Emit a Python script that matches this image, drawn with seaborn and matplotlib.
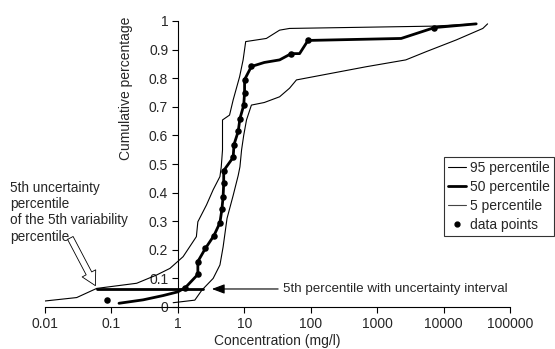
import matplotlib
matplotlib.use('Agg')
import matplotlib.pyplot as plt
from matplotlib.lines import Line2D
import numpy as np
import pandas as pd
import seaborn as sns

# Datos
conc_puntos = [0.085, 1.3, 2.0, 2.0, 2.6, 3.5, 4.3, 4.6, 4.8, 4.9, 4.9, 6.8, 7.0, 8.1, 8.6,
               9.8, 10.1, 10.1, 12.8, 51, 91, 7300]
cum_puntos = [0.023, 0.068, 0.114, 0.159, 0.205, 0.25, 0.295, 0.341, 0.386, 0.432, 0.477,
              0.523, 0.568, 0.614, 0.659, 0.705, 0.75, 0.795, 0.841, 0.886, 0.932, 0.977]

conc_p50 = [0.13, 0.3, 0.6, 1.0, 1.3, 2.0, 2.0, 2.6, 3.5, 4.3, 4.6, 4.8, 4.9, 4.9, 6.8, 7.0,
            8.1, 8.6, 9.8, 10.1, 10.1, 12.8, 20, 34, 51, 68, 91, 2300, 7300, 31000]
cum_p50 = [0.013, 0.025, 0.04, 0.053, 0.068, 0.114, 0.159, 0.205, 0.25, 0.295, 0.341, 0.386,
           0.432, 0.477, 0.523, 0.568, 0.614, 0.659, 0.705, 0.75, 0.795, 0.841, 0.855, 0.864,
           0.886, 0.886, 0.932, 0.939, 0.977, 0.99]

conc_p95 = [0.01, 0.03, 0.06, 0.24, 0.48, 0.76, 1.2, 1.9, 2.0, 2.7, 3.4, 4.3, 4.5, 4.7, 4.7,
            6.0, 6.8, 8.5, 9.6, 10.5, 21.5, 34, 48, 6900, 31000]
cum_p95 = [0.021, 0.033, 0.065, 0.083, 0.112, 0.135, 0.176, 0.246, 0.298, 0.357, 0.41, 0.456,
           0.49, 0.549, 0.654, 0.671, 0.724, 0.805, 0.864, 0.928, 0.939, 0.968, 0.974, 0.982, 0.99]

conc_p5 = [0.85, 1.8, 2.3, 3.4, 4.3, 4.8, 5.5, 6.8, 8.1, 8.6, 9.1, 9.8, 10.8, 12.8, 20, 34, 48,
           61, 680, 2700, 5500, 15600, 39000, 46000]
cum_p5 = [0.015, 0.024, 0.059, 0.1, 0.147, 0.21, 0.31, 0.39, 0.46, 0.49, 0.549, 0.6, 0.654,
          0.706, 0.715, 0.735, 0.765, 0.794, 0.84, 0.864, 0.893, 0.934, 0.974, 0.99]

# intervalo del percentil 5
intervalo_conc = [0.06, 2.4]
intervalo_cum = [0.062, 0.062]

xticks = [0.01, 0.1, 1, 10, 100, 1000, 10000, 100000]
xtick_labels = ['0.01', '0.1', '1', '10', '100', '1000', '10000', '100000']
yticks = [0, 0.1, 0.2, 0.3, 0.4, 0.5, 0.6, 0.7, 0.8, 0.9, 1]
ytick_labels = ['0', '0.1', '0.2', '0.3', '0.4', '0.5', '0.6', '0.7', '0.8', '0.9', '1']

sns.set_style('white')
plt.rcParams['font.family'] = ['Liberation Sans', 'DejaVu Sans']

fig = plt.figure(figsize=(5.55, 3.49), dpi=100)
ax = fig.add_axes([45 / 555, 1 - 307 / 349, 465 / 555, 286 / 349])

df95 = pd.DataFrame({'c': conc_p95, 'p': cum_p95})
df50 = pd.DataFrame({'c': conc_p50, 'p': cum_p50})
df5 = pd.DataFrame({'c': conc_p5, 'p': cum_p5})
dfp = pd.DataFrame({'c': conc_puntos, 'p': cum_puntos})

sns.lineplot(data=df95, x='c', y='p', sort=False, estimator=None, color='black', lw=0.8, ax=ax)
sns.lineplot(data=df5, x='c', y='p', sort=False, estimator=None, color='black', lw=0.8, ax=ax)
sns.lineplot(data=df50, x='c', y='p', sort=False, estimator=None, color='black', lw=2, ax=ax)
sns.scatterplot(data=dfp, x='c', y='p', color='black', s=22, edgecolor='black', linewidth=0, zorder=5, ax=ax)
ax.plot(intervalo_conc, intervalo_cum, color='black', lw=2)

ax.set_xscale('log')
ax.set_xlim(0.01, 100000)
ax.set_ylim(0, 1)
ax.set_xticks(xticks)
ax.set_xticklabels(xtick_labels)
ax.set_yticks(yticks)
ax.set_yticklabels(ytick_labels)
ax.minorticks_off()
ax.tick_params(axis='both', direction='out', length=4, width=0.8, color='black', labelsize=10, pad=3,
               bottom=True, left=True)

ax.spines['left'].set_position(('data', 1))
ax.spines['top'].set_visible(False)
ax.spines['right'].set_visible(False)
for s in ['left', 'bottom']:
    ax.spines[s].set_color('black')
    ax.spines[s].set_linewidth(0.8)

ax.set_xlabel('Concentration (mg/l)', fontsize=10)
ax.xaxis.set_label_coords(0.5, -0.095)
ax.set_ylabel('Cumulative percentage', fontsize=10)
ax.yaxis.set_label_coords(0.19, 0.766)

# Anotaciones
ax.annotate('', xy=(0.06, 0.066), xytext=(0.023, 0.25),
            arrowprops=dict(arrowstyle='simple,head_length=1.0,head_width=1.1,tail_width=0.45',
                            fc='white', ec='black', lw=0.6))
ax.annotate('5th percentile with uncertainty interval', xy=(3.25, 0.063), xytext=(38, 0.063),
            ha='left', va='center', fontsize=9.6,
            arrowprops=dict(arrowstyle='-|>,head_length=0.8,head_width=0.3', color='black', lw=0.8,
                            shrinkA=1, shrinkB=0))
fig.text(10 / 555, 1 - 181 / 349, '5th uncertainty\npercentile\nof the 5th variability\npercentile',
         ha='left', va='top', fontsize=9.8, linespacing=1.2)

# Leyenda
handles = [Line2D([], [], color='black', lw=0.8),
           Line2D([], [], color='black', lw=2),
           Line2D([], [], color='#444444', lw=0.8),
           Line2D([], [], color='black', lw=0, marker='o', markersize=3.5)]
labels = ['95 percentile', '50 percentile', '5 percentile', 'data points']
leg = ax.legend(handles, labels, loc='upper left', bbox_to_anchor=(444 / 555, 1 - 157 / 349),
                bbox_transform=fig.transFigure, fontsize=10, frameon=True, fancybox=False,
                handlelength=1.3, handletextpad=0.3, labelspacing=0.35, borderpad=0.3,
                borderaxespad=0)
leg.get_frame().set_edgecolor('black')
leg.get_frame().set_linewidth(0.8)

fig.savefig('out.png', dpi=100)
